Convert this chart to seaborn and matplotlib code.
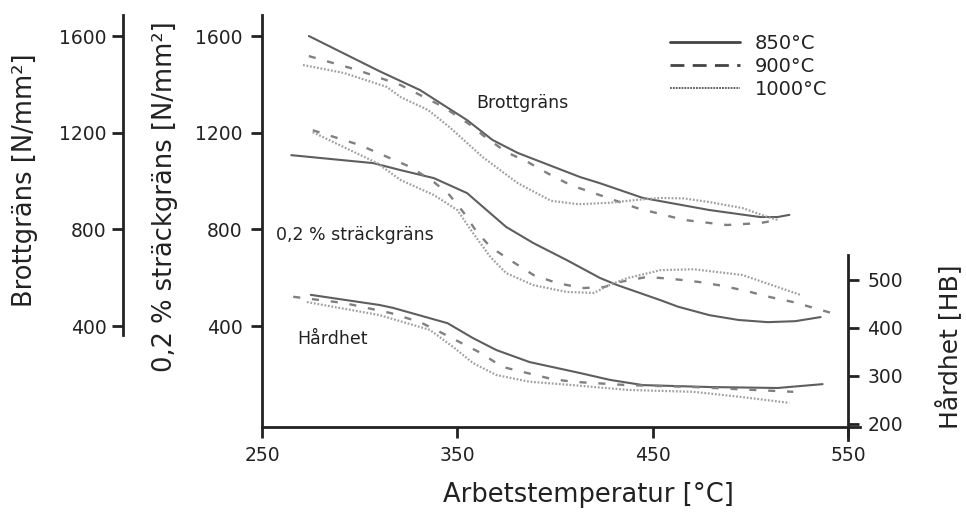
import pandas as pd
import matplotlib.pyplot as plt
from matplotlib.lines import Line2D
import seaborn as sns

# Brottgräns [N/mm2]
brott_850_t = [274, 310, 331, 355, 368, 381, 397, 413, 423, 445, 479, 505, 514, 520]
brott_850_v = [1600, 1455, 1376, 1252, 1170, 1116, 1066, 1016, 991, 930, 880, 851, 851, 860]
brott_900_t = [274, 299, 321, 343, 358, 363, 375, 386, 396, 408, 420, 442, 466, 488, 505, 514]
brott_900_v = [1517, 1459, 1397, 1306, 1225, 1190, 1120, 1079, 1033, 983, 950, 888, 839, 818, 826, 839]
brott_1000_t = [271, 292, 314, 321, 335, 346, 363, 381, 398, 412, 428, 442, 454, 466, 479, 496, 509, 514]
brott_1000_v = [1480, 1447, 1389, 1347, 1294, 1223, 1099, 991, 918, 904, 910, 922, 930, 928, 913, 888, 851, 839]

# 0,2 % sträckgräns [N/mm2]
strack_850_t = [265, 307, 321, 338, 355, 365, 375, 389, 406, 423, 432, 454, 463, 479, 494, 509, 523, 536]
strack_850_v = [1107, 1074, 1045, 1012, 950, 880, 810, 743, 673, 599, 569, 507, 480, 445, 425, 416, 420, 437]
strack_900_t = [276, 300, 326, 338, 346, 353, 360, 367, 377, 389, 401, 414, 425, 433, 447, 460, 474, 486,
                498, 510, 522, 542]
strack_900_v = [1210, 1149, 1058, 996, 942, 872, 789, 727, 673, 611, 578, 557, 561, 582, 603, 595, 582, 566,
                545, 520, 499, 453]
strack_1000_t = [276, 309, 321, 338, 350, 358, 367, 375, 389, 406, 420, 428, 437, 454, 471, 496, 526]
strack_1000_v = [1202, 1074, 1004, 942, 880, 785, 685, 619, 569, 541, 537, 570, 598, 631, 635, 611, 528]

# Hårdhet [HB]
hb_850_t = [275, 310, 317, 345, 358, 370, 387, 413, 428, 445, 479, 514, 537]
hb_850_v = [469, 448, 442, 410, 379, 354, 329, 306, 292, 281, 277, 275, 283]
hb_900_t = [266, 292, 316, 331, 341, 351, 362, 373, 386, 398, 409, 437, 471, 522]
hb_900_v = [465, 452, 431, 412, 392, 371, 348, 319, 306, 294, 288, 281, 277, 267]
hb_1000_t = [273, 310, 336, 348, 358, 370, 387, 409, 437, 471, 496, 520]
hb_1000_v = [454, 427, 396, 360, 327, 302, 288, 281, 271, 267, 256, 244]

x_ticks = [250, 350, 450, 550]
n_ticks = [400, 800, 1200, 1600]
hb_ticks = [200, 300, 400, 500]
legend_labels = ['850°C', '900°C', '1000°C']

sns.set_style('ticks')
plt.rcParams['font.family'] = ['DejaVu Sans']
ink = '#222222'

styles = {
    '850': dict(color='#5e5e5e', linestyle='-', linewidth=1.5),
    '900': dict(color='#808080', linestyle=(0, (3, 5)), linewidth=1.7),
    '1000': dict(color='#a0a0a0', linestyle=(0, (0.8, 0.8)), linewidth=1.6),
}

fig = plt.figure(figsize=(9.66, 5.17), dpi=100)
ax = fig.add_axes([0.2712, 0.1741, 0.6066, 0.7969])
ax_outer = ax.twinx()
ax_hb = ax.twinx()

n_lim = (-17.8, 1687)
hb_lim = (193.75, 1052)

# kurvor
for t, v, key in [(brott_850_t, brott_850_v, '850'), (brott_900_t, brott_900_v, '900'),
                  (brott_1000_t, brott_1000_v, '1000'),
                  (strack_850_t, strack_850_v, '850'), (strack_900_t, strack_900_v, '900'),
                  (strack_1000_t, strack_1000_v, '1000')]:
    df = pd.DataFrame({'t': t, 'v': v})
    sns.lineplot(data=df, x='t', y='v', ax=ax, **styles[key])

for t, v, key in [(hb_850_t, hb_850_v, '850'), (hb_900_t, hb_900_v, '900'),
                  (hb_1000_t, hb_1000_v, '1000')]:
    df = pd.DataFrame({'t': t, 'v': v})
    sns.lineplot(data=df, x='t', y='v', ax=ax_hb, **styles[key])

# huvudaxel (sträckgräns)
ax.set_xlim(250, 550)
ax.set_ylim(*n_lim)
ax.set_xticks(x_ticks)
ax.set_yticks(n_ticks)
ax.set_xlabel('')
ax.set_ylabel('')
for s in ['top', 'right']:
    ax.spines[s].set_visible(False)
ax.spines['bottom'].set_bounds(250, 556)

# yttre axel (brottgräns)
ax_outer.set_ylim(*n_lim)
ax_outer.set_yticks(n_ticks)
ax_outer.yaxis.set_ticks_position('left')
ax_outer.yaxis.set_label_position('left')
ax_outer.spines['left'].set_position(('axes', -0.237))
ax_outer.spines['left'].set_bounds(363, 1687)
for s in ['top', 'right', 'bottom']:
    ax_outer.spines[s].set_visible(False)

# hårdhet
ax_hb.set_ylim(*hb_lim)
ax_hb.set_yticks(hb_ticks)
ax_hb.set_ylabel('')
ax_hb.spines['right'].set_bounds(167, 552)
for s in ['top', 'left', 'bottom']:
    ax_hb.spines[s].set_visible(False)

for a in [ax, ax_outer, ax_hb]:
    for s in a.spines.values():
        s.set_linewidth(2)
        s.set_color(ink)
    a.tick_params(length=8, width=2, color=ink, labelcolor=ink, labelsize=13.5, pad=6)
ax_outer.tick_params(axis='y', pad=4)

# etiketter i diagrammet
ax.text(359.5, 1323, 'Brottgräns', fontsize=12.5, color=ink, va='center')
ax.text(257, 777, '0,2 % sträckgräns', fontsize=12.5, color=ink, va='center')
ax.text(268, 346, 'Hårdhet', fontsize=12.5, color=ink, va='center')

# axeltitlar
fig.text(25 / 966, 1 - 180 / 517, 'Brottgräns [N/mm²]', rotation=90,
         ha='center', va='center', fontsize=18.5, color=ink)
fig.text(165 / 966, 1 - 197 / 517, '0,2 % sträckgräns [N/mm²]', rotation=90,
         ha='center', va='center', fontsize=18.5, color=ink)
fig.text(950 / 966, 1 - 347 / 517, 'Hårdhet [HB]', rotation=90,
         ha='center', va='center', fontsize=18, color=ink)
fig.text(588 / 966, 1 - 495 / 517, 'Arbetstemperatur [°C]',
         ha='center', va='center', fontsize=18.5, color=ink)

# legend
handles = [Line2D([], [], color='#444444', linestyle='-', linewidth=2),
           Line2D([], [], color='#444444', linestyle=(0, (5, 3)), linewidth=2),
           Line2D([], [], color='#555555', linestyle=(0, (1, 0.6)), linewidth=1.3)]
leg = fig.legend(handles, legend_labels, loc='upper left',
                 bbox_to_anchor=(670 / 966, 1 - 34 / 517), frameon=False,
                 fontsize=14, handlelength=3.6, handletextpad=0.75,
                 labelspacing=0.2, borderpad=0, borderaxespad=0)
for txt in leg.get_texts():
    txt.set_color(ink)

fig.savefig('out.png', dpi=100)
